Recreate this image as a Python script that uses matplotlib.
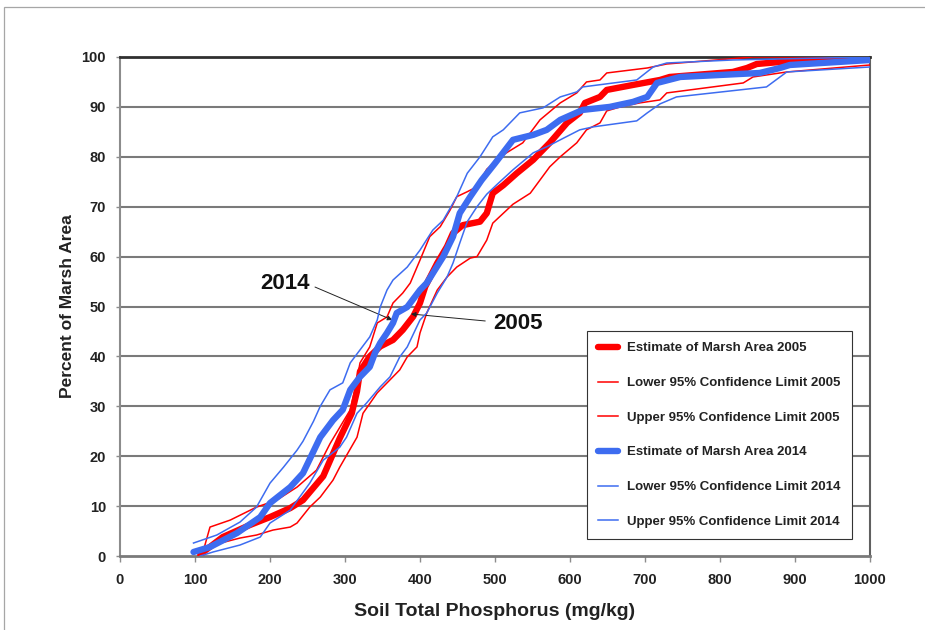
import matplotlib
matplotlib.use('Agg')
import matplotlib.pyplot as plt
from matplotlib.patches import Rectangle

# cumulative marsh area vs soil total phosphorus (mg/kg)
tp_est_2005 = [107, 111, 137, 173, 200, 227, 244, 271, 293, 309, 316, 320, 333, 347, 364, 377, 391, 400,
               407, 423, 436, 444, 457, 480, 489, 497, 511, 529, 551, 573, 596, 613, 620, 640, 649, 684,
               720, 733, 817, 836, 849, 880, 1000]
pct_est_2005 = [0.2, 0.8, 3.8, 6.2, 7.8, 9.6, 11.2, 16, 23.6, 28.6, 33, 37, 40, 42, 43.3, 45.3, 48, 50.7,
                54, 58.7, 62, 64.7, 66.3, 67, 68.7, 72.7, 74.3, 76.7, 79.4, 82.8, 86.8, 88.8, 90.8, 92, 93.4, 94.4,
                95.4, 96, 97, 97.8, 98.6, 99, 99.6]

tp_lo_2005 = [111, 124, 160, 182, 204, 227, 236, 253, 267, 284, 293, 316, 324, 343, 360, 373, 383, 396, 400,
              409, 423, 436, 449, 467, 476, 489, 497, 524, 547, 573, 587, 609, 622, 640, 649, 667, 693, 720,
              729, 831, 844, 889, 1000]
pct_lo_2005 = [0.6, 2.2, 3.6, 4.2, 5.2, 5.8, 6.6, 9.8, 11.8, 15.2, 17.8, 23.8, 28.6, 32.7, 35.3, 37.3, 39.9, 41.9, 44.7,
               48.7, 53.3, 55.9, 57.9, 59.7, 60, 63.3, 66.7, 70.5, 72.7, 78, 80, 82.8, 85.4, 86.8, 89.2, 90, 90.8, 91.4,
               92.8, 94.8, 96, 97, 98.4]

tp_up_2005 = [111, 120, 147, 182, 209, 236, 262, 280, 307, 316, 320, 333, 343, 356, 364, 377, 387, 400, 413,
              427, 440, 449, 463, 476, 489, 511, 537, 560, 587, 609, 622, 640, 649, 703, 729, 844, 1000]
pct_up_2005 = [1, 5.8, 7.2, 9.8, 11.2, 13.8, 17.2, 22.5, 29.3, 35.3, 38.7, 41.9, 46.7, 47.9, 50.7, 52.7, 54.7, 59.3, 64,
               66, 69.3, 72, 73, 74, 77.5, 80.4, 82.8, 87.4, 90.8, 92.8, 95, 95.4, 96.8, 97.8, 98.6, 100, 100]

tp_est_2014 = [98, 120, 156, 187, 200, 227, 244, 267, 284, 297, 307, 320, 333, 340, 347, 356, 364, 369, 383,
               400, 409, 431, 444, 453, 467, 482, 500, 524, 551, 569, 587, 617, 653, 684, 703, 716, 747, 853,
               880, 893, 1000]
pct_est_2014 = [0.8, 1.8, 4.6, 7.8, 10.6, 13.8, 16.6, 23.8, 27.2, 29.3, 33.3, 35.9, 37.9, 40.7, 42.7, 44.7, 46.7, 48.7, 49.9,
                53.3, 54.7, 60, 64, 68.7, 72, 75.3, 78.7, 83.4, 84.4, 85.4, 87.4, 89.4, 90, 91, 92, 94.8, 96, 96.8,
                97.8, 98.4, 99.4]

tp_lo_2014 = [107, 124, 160, 187, 200, 227, 253, 271, 293, 302, 316, 329, 347, 360, 373, 383, 400, 409, 423,
              436, 444, 453, 463, 476, 489, 503, 524, 551, 569, 587, 613, 631, 689, 703, 720, 742, 862, 889, 1000]
pct_lo_2014 = [0, 0.8, 2.2, 3.8, 6.6, 9.2, 14.6, 19.2, 21.8, 23.8, 28.6, 30.7, 33.9, 35.9, 39.9, 41.9, 47.3, 48.7, 52.7,
               55.9, 58.7, 62.7, 67, 70, 72.5, 74.5, 77.4, 80.8, 82, 83.4, 85.4, 86, 87.2, 88.8, 90.6, 92, 94, 97, 98]

tp_up_2014 = [98, 129, 160, 182, 200, 218, 236, 244, 258, 267, 280, 297, 307, 320, 333, 343, 347, 356, 364,
              383, 400, 417, 431, 449, 463, 480, 497, 511, 533, 564, 587, 609, 617, 689, 711, 729, 817, 1000]
pct_up_2014 = [2.6, 4.2, 6.8, 9.8, 14.6, 17.8, 21.2, 23, 27, 30, 33.3, 34.7, 38.7, 41.3, 43.9, 47.3, 49.9, 53.3, 55.3,
               57.9, 61.3, 65.3, 67.3, 72, 76.7, 80, 84, 85.4, 88.8, 89.8, 92, 93, 94, 95.4, 98, 98.8, 99.4, 100]

# callout text position, arrow tail and arrow head (data units)
label_2014 = (220, 54.7)
arrow_2014 = ((260, 53.9), (363, 47.3))
label_2005 = (531, 46.6)
arrow_2005 = ((487, 47.1), (388, 48.5))

RED = '#ff0000'
BLUE = '#3d6cf0'
BOLD = ['Liberation Sans', 'DejaVu Sans']
TXT = '#222222'

fig = plt.figure(figsize=(9.25, 6.3), dpi=100)
fig.patches.append(Rectangle((4 / 925, -0.1), 1.2, 1.1 - 7 / 630, transform=fig.transFigure,
                             fill=False, edgecolor='#a6a6a6', lw=0.9))
ax = fig.add_axes([120 / 925, 74 / 630, 750 / 925, 499 / 630])

# gridlines first so curves sit on top
for yv in range(10, 100, 10):
    ax.axhline(yv, color='#7a7a7a', lw=1.5, zorder=1)

thick = dict(lw=4.6, solid_joinstyle='round', solid_capstyle='round')
thin = dict(lw=1.1, solid_joinstyle='round')
ax.plot(tp_est_2005, pct_est_2005, color=RED, zorder=3, label='Estimate of Marsh Area 2005', **thick)
ax.plot(tp_lo_2005, pct_lo_2005, color=RED, zorder=3, label='Lower 95% Confidence Limit 2005', **thin)
ax.plot(tp_up_2005, pct_up_2005, color=RED, zorder=3, label='Upper 95% Confidence Limit 2005', **thin)
ax.plot(tp_est_2014, pct_est_2014, color=BLUE, zorder=4, label='Estimate of Marsh Area 2014', **thick)
ax.plot(tp_lo_2014, pct_lo_2014, color=BLUE, zorder=4, label='Lower 95% Confidence Limit 2014', **thin)
ax.plot(tp_up_2014, pct_up_2014, color=BLUE, zorder=4, label='Upper 95% Confidence Limit 2014', **thin)

ax.set_xlim(0, 1000)
ax.set_ylim(0, 100)
ax.set_xticks(range(0, 1001, 100))
ax.set_yticks(range(0, 101, 10))

ax.spines['top'].set_color('#303030')
ax.spines['top'].set_linewidth(2)
ax.spines['right'].set_color('#606060')
ax.spines['right'].set_linewidth(1.5)
ax.spines['left'].set_color('#8c8c8c')
ax.spines['left'].set_linewidth(1.5)
ax.spines['bottom'].set_color('#7a7a7a')
ax.spines['bottom'].set_linewidth(2)

ax.tick_params(axis='x', length=4, width=1, color='#8c8c8c', pad=8)
ax.tick_params(axis='y', length=3, width=1, color='#8c8c8c', pad=7)
for lbl in ax.get_xticklabels() + ax.get_yticklabels():
    lbl.set_fontfamily(BOLD)
    lbl.set_fontweight('bold')
    lbl.set_fontsize(10.5)
    lbl.set_color(TXT)

ax.set_xlabel('Soil Total Phosphorus (mg/kg)', family=BOLD, fontweight='bold', fontsize=14,
              color=TXT, labelpad=12)
ax.set_ylabel('Percent of Marsh Area', family=BOLD, fontweight='bold', fontsize=12.5,
              color=TXT, labelpad=5)

# year callouts
arrow_kw = dict(arrowstyle='-|>', color='#222222', lw=0.7, mutation_scale=7, shrinkA=0, shrinkB=0)
ax.text(*label_2014, '2014', family=BOLD, fontweight='bold', fontsize=16, ha='center', va='center', color='#111111')
ax.annotate('', xy=arrow_2014[1], xytext=arrow_2014[0], arrowprops=arrow_kw)
ax.text(*label_2005, '2005', family=BOLD, fontweight='bold', fontsize=16, ha='center', va='center', color='#111111')
ax.annotate('', xy=arrow_2005[1], xytext=arrow_2005[0], arrowprops=arrow_kw)

leg = ax.legend(loc='lower left', bbox_to_anchor=(0.623, 0.034), borderaxespad=0,
                prop=dict(family=BOLD, weight='bold', size=9.5), labelspacing=1.7,
                handlelength=1.5, handletextpad=0.65, borderpad=0.85, fancybox=False,
                framealpha=1, edgecolor='#333333')
leg.get_frame().set_linewidth(0.8)
for t in leg.get_texts():
    t.set_color(TXT)
leg.set_zorder(10)

fig.savefig('out.png', dpi=100)
